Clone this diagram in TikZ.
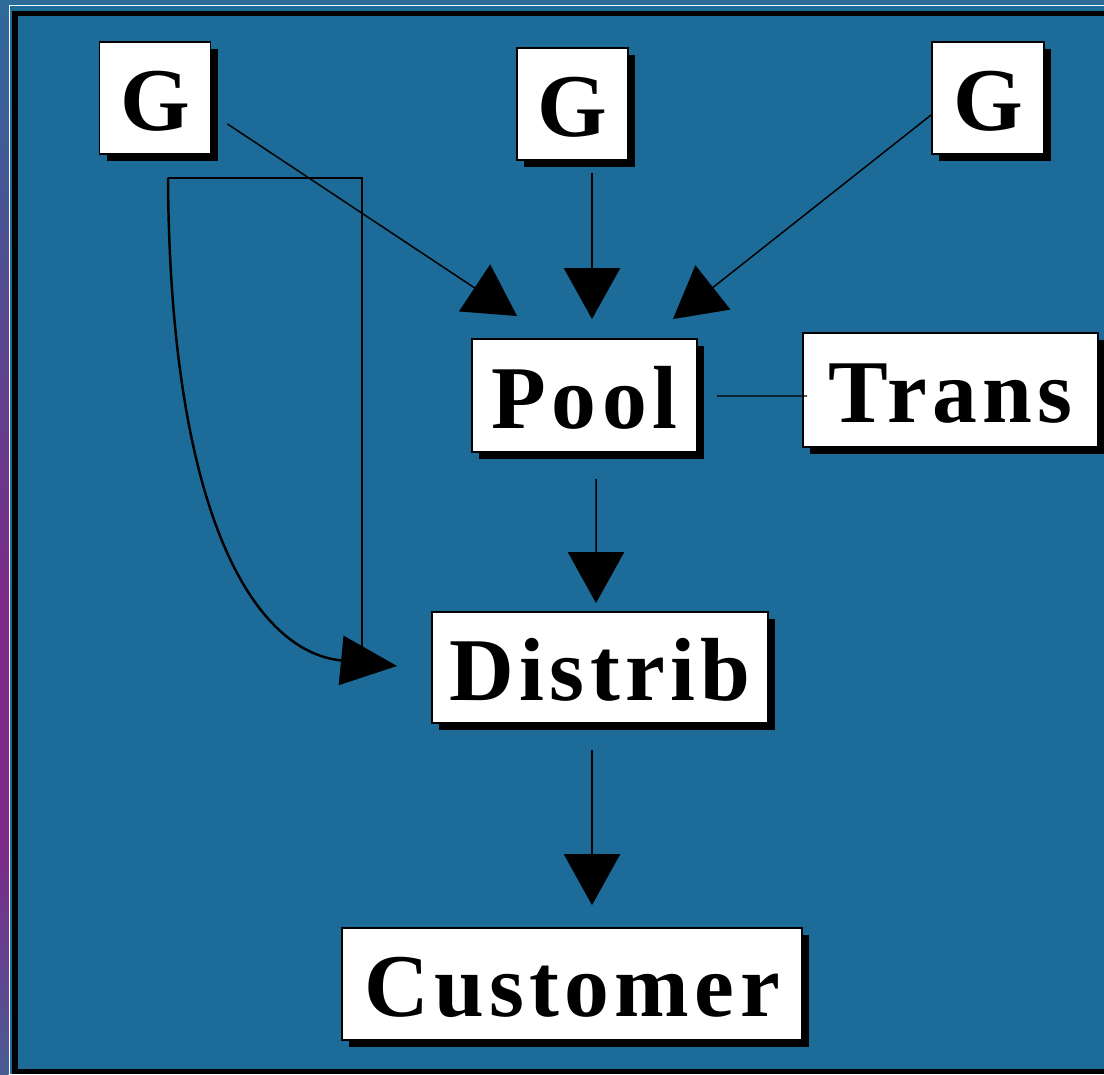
\documentclass[tikz,border=0pt]{standalone}
\usepackage{fontspec}
\setmainfont{Liberation Serif}
\newfontfamily\spacedfont[LetterSpace=6]{Liberation Serif}
\usetikzlibrary{arrows.meta,shadows,calc}

\definecolor{panel}{RGB}{28,107,152}
\definecolor{frameblue}{RGB}{46,106,154}
\definecolor{edgeviolet}{RGB}{124,42,135}
\definecolor{edgeblue}{RGB}{74,92,148}

\tikzset{
  box/.style={draw=black, line width=1.1pt, fill=white, inner sep=0pt,
    text height=37.4pt, text depth=0pt,
    font=\fontsize{51}{60}\selectfont\bfseries,
    drop shadow={fill=black, opacity=1, shadow xshift=4pt, shadow yshift=-4.2pt}},
  wide/.style={box, font=\fontsize{51}{60}\selectfont\bfseries\spacedfont},
  conn/.style={draw=black, line width=0.85pt},
  arr/.style={conn, -{Triangle[length=29pt, width=32pt]}},
  curvearr/.style={draw=black, line width=1.4pt, -{Triangle[length=32pt, width=28pt]}}
}

\begin{document}
\begin{tikzpicture}[x=0.02cm, y=-0.02cm]
  % page area and backdrop
  \useasboundingbox (0,0) rectangle (1104,1074);
  \fill[panel] (0,0) rectangle (1104,1074);
  \fill[frameblue] (0,0) rectangle (1104,4.5);
  \shade[top color=frameblue, bottom color=edgeviolet] (0,0) rectangle (8.5,600);
  \fill[edgeviolet] (0,600) rectangle (8.5,850);
  \shade[top color=edgeviolet, bottom color=edgeblue] (0,850) rectangle (8.5,1074);
  \draw[white, line width=0.9pt] (1104,5.5) -- (9.5,5.5) -- (9.5,1074);
  \draw[black, line width=2.9pt] (1104,13.5) -- (15,13.5) -- (15,1071.5) -- (1104,1071.5);

  % boxes
  \node[box, minimum width=111*0.02cm, minimum height=112*0.02cm] (G1) at (155,98) {G};
  \node[box, minimum width=111*0.02cm, minimum height=112*0.02cm] (G2) at (572.5,104) {G};
  \node[box, minimum width=112*0.02cm, minimum height=112*0.02cm] (G3) at (988,98) {G};
  \node[wide, minimum width=225*0.02cm, minimum height=113*0.02cm] (Pool) at (584.5,395.5) {Pool};
  \node[wide, minimum width=295*0.02cm, minimum height=114*0.02cm] (Trans) at (950.5,390) {Trans};
  \node[wide, minimum width=336*0.02cm, minimum height=111*0.02cm] (Distrib) at (600,667.5) {Distrib};
  \node[wide, minimum width=460*0.02cm, minimum height=112*0.02cm] (Customer) at (572,984) {Customer};

  % split point below the first G
  \coordinate (split) at ([shift={(13,23)}]G1.south);

  % connectors into Pool
  \draw[arr] ([shift={(16,26)}]G1.east) -- ([shift={(46,-22)}]Pool.north west);
  \draw[arr] ([shift={(19.5,12)}]G2.south) -- ([shift={(7.5,-19)}]Pool.north);
  \draw[arr] ([shift={(0,17)}]G3.west) -- ([shift={(-25,-19)}]Pool.north east);

  % Pool to Trans
  \draw[conn] ([shift={(19,0.5)}]Pool.east) -- ([shift={(5,6)}]Trans.west);

  % chain downwards
  \draw[arr] ([shift={(11.5,26)}]Pool.south) -- ([shift={(-4,-8)}]Distrib.north);
  \draw[arr] ([shift={(-8,26)}]Distrib.south) -- ([shift={(20,-22)}]Customer.north);

  % bypass from the first G to Distrib
  \draw[conn] (split) -| ([shift={(-69,-20)}]Distrib.west);
  \draw[curvearr] (split) .. controls (170,520) and (256,652) .. ([shift={(-34,-1.5)}]Distrib.west);
\end{tikzpicture}
\end{document}
